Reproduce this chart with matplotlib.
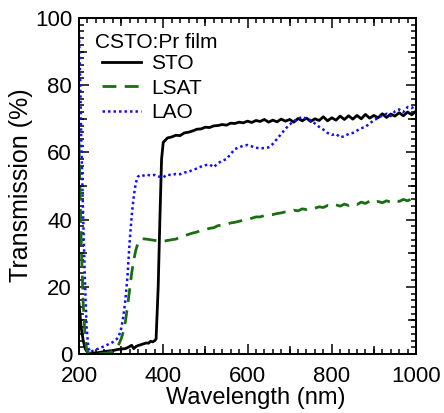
import matplotlib
matplotlib.use("Agg")
import matplotlib.pyplot as plt
from matplotlib.ticker import MultipleLocator, FixedLocator, NullFormatter

plt.rcParams['font.family'] = ['Liberation Sans', 'DejaVu Sans']

# ---- data ----
sto_wl = [200, 205, 210, 215, 220, 225, 230, 240, 250, 260, 270, 280, 290, 300, 310, 320, 325, 330,
          335, 340, 350, 360, 365, 370, 375, 380, 383, 388, 392, 396,
          400, 410, 420, 430, 440, 450, 460, 470, 480, 490, 500, 510, 520, 530, 540, 550, 560, 570,
          580, 590, 600, 610, 620, 630, 640, 650, 660, 670, 680, 690, 700, 710, 720, 730, 740, 750,
          760, 770, 780, 790, 800, 810, 820, 830, 840, 850, 860, 870, 880, 890, 900, 910, 920, 930,
          940, 950, 960, 970, 980, 990, 1000]
sto_t = [15, 8, 4, 1.5, 0.5, 0.2, 0.3, 0.3, 0.5, 0.7, 0.9, 1.0, 1.3, 1.5, 1.6, 2.2, 2.6, 1.6,
         2.2, 2.5, 2.9, 3.3, 3.2, 3.8, 3.6, 4.0, 4.5, 20, 40, 58,
         63.0, 64.3, 64.6, 65.1, 65.0, 65.8, 66.0, 66.4, 66.9, 67.0, 67.5, 67.4, 67.9, 68.0, 68.3,
         68.1, 68.7, 68.6, 69.0, 68.8, 69.3, 68.9, 69.5, 69.2, 69.8, 69.0, 69.6, 69.1, 69.9, 69.3,
         69.8, 69.0, 70.1, 69.4, 70.2, 69.2, 70.0, 69.5, 70.6, 69.4, 70.3, 69.6, 70.8, 69.8, 70.9,
         69.9, 71.0, 70.0, 71.3, 70.2, 71.0, 70.3, 71.5, 70.4, 71.4, 70.8, 71.8, 70.9, 72.0, 71.2, 72.3]

lsat_wl = [200, 203, 206, 210, 214, 218, 222, 230, 240, 250, 260, 270, 280, 290, 295, 300, 305,
           310, 315, 320, 325, 330, 335, 340, 345, 350, 360, 370, 380, 390, 400, 410, 420, 430,
           440, 450, 460, 470, 480, 490, 500, 510, 520, 530, 540, 550, 560, 570, 580, 590, 600,
           610, 620, 630, 640, 650, 660, 670, 680, 690, 700, 710, 720, 730, 740, 750, 760, 770,
           780, 790, 800, 810, 820, 830, 840, 850, 860, 870, 880, 890, 900, 910, 920, 930, 940,
           950, 960, 970, 980, 990, 1000]
lsat_t = [63, 45, 30, 15, 6, 1.5, 0.3, 0, 0, 0.1, 0.2, 0.4, 0.8, 2.0, 3.0, 4.5, 6.5,
          9.5, 14, 19, 24, 28, 31, 33, 34, 34.3, 34.2, 34.0, 33.8, 33.6, 33.5, 33.8, 34.0, 34.2,
          34.8, 35.2, 35.6, 36.0, 36.3, 36.8, 37.0, 37.4, 37.6, 38.2, 38.4, 38.6, 39.0, 39.2, 39.5,
          39.8, 40.2, 40.4, 40.8, 40.8, 41.2, 41.4, 41.5, 41.8, 42.0, 42.3, 42.4, 42.8, 42.6, 43.2,
          43.0, 43.5, 43.4, 43.8, 43.6, 44.2, 43.9, 44.4, 44.0, 44.6, 44.2, 44.8, 44.5, 45.2, 44.8,
          45.5, 44.9, 45.4, 45.0, 45.6, 45.2, 45.8, 45.4, 46.0, 45.6, 46.2, 46.0]

lao_wl = [200, 203, 206, 210, 214, 218, 222, 226, 230, 240, 250, 260, 270, 280, 290, 295, 300,
          305, 310, 315, 320, 325, 330, 335, 340, 345, 350, 360, 370, 380, 390, 400, 410, 420,
          430, 440, 450, 460, 470, 480, 490, 500, 510, 520, 530, 540, 550, 560, 570, 580, 590,
          600, 610, 620, 630, 640, 650, 660, 670, 680, 690, 700, 710, 720, 730, 740, 750, 760,
          770, 780, 790, 800, 810, 820, 830, 840, 850, 860, 870, 880, 890, 900, 910, 920, 930,
          940, 950, 960, 970, 980, 990, 1000]
lao_t = [95, 80, 60, 40, 22, 8, 2, 0.6, 0.8, 1.3, 1.8, 2.3, 2.9, 3.5, 4.5, 5.5, 7.5,
         11, 16, 23, 33, 41, 47, 51, 52.8, 53.2, 53.0, 53.4, 53.1, 53.3, 52.8, 52.6, 53.4, 53.2,
         53.6, 53.5, 54.0, 54.2, 54.8, 55.2, 55.8, 56.2, 56.4, 55.6, 56.8, 57.5, 58.0, 59.5, 61.0,
         61.5, 62.0, 62.2, 61.8, 61.4, 61.2, 61.3, 61.5, 62.5, 64.0, 65.5, 67.0, 68.3, 69.3, 70.0,
         70.6, 70.0, 69.6, 68.6, 67.6, 66.8, 65.8, 65.2, 65.5, 64.5, 64.8, 65.5, 65.8, 66.5, 67.2,
         67.6, 68.6, 69.6, 70.2, 71.0, 71.5, 70.8, 72.2, 72.8, 72.0, 73.5, 73.2, 74.0]

series_labels = ["STO", "LSAT", "LAO"]
legend_title = "CSTO:Pr film"

# ---- figure ----
W, H = 444, 413
fig = plt.figure(figsize=(W / 100, H / 100), dpi=100)
ax_l, ax_r, ax_t, ax_b = 79, 416, 18, 354
ax = fig.add_axes([ax_l / W, (H - ax_b) / H, (ax_r - ax_l) / W, (ax_b - ax_t) / H])

def ax_x(px):
    return (px - ax_l) / (ax_r - ax_l)

def ax_y(py):
    return (ax_b - py) / (ax_b - ax_t)

ax.plot(sto_wl, sto_t, color='black', lw=2.0, ls='-', label=series_labels[0])
ax.plot(lsat_wl, lsat_t, color='#1a6e12', lw=2.0, ls=(0, (5, 3)), label=series_labels[1])
ax.plot(lao_wl, lao_t, color='#1010ff', lw=1.8, ls=(0, (1, 1.2)), label=series_labels[2])

ax.set_xlim(200, 1000)
ax.set_ylim(0, 100)

ax.xaxis.set_major_locator(MultipleLocator(200))
ax.xaxis.set_minor_locator(MultipleLocator(20))
ax.yaxis.set_major_locator(MultipleLocator(20))
ax.yaxis.set_minor_locator(MultipleLocator(2))

tfs = 16
ax.tick_params(which='both', direction='in', top=True, right=True, width=1.1, color='black')
ax.tick_params(which='major', length=7.5)
ax.tick_params(which='minor', length=3.5)
ax.tick_params(axis='x', which='major', labelsize=tfs, pad=9)
ax.tick_params(axis='y', which='major', labelsize=tfs, pad=5)
for s in ax.spines.values():
    s.set_linewidth(1.3)

# medium ticks (every 100 nm / every 10 %)
for loc in ['bottom', 'top']:
    sec = ax.secondary_xaxis(loc)
    sec.xaxis.set_major_locator(FixedLocator([300, 500, 700, 900]))
    sec.xaxis.set_major_formatter(NullFormatter())
    sec.xaxis.set_minor_locator(FixedLocator([]))
    sec.tick_params(direction='in', length=5.5, width=1.1)
    sec.spines[loc].set_linewidth(1.3)
for loc in ['left', 'right']:
    sec = ax.secondary_yaxis(loc)
    sec.yaxis.set_major_locator(FixedLocator([10, 30, 50, 70, 90]))
    sec.yaxis.set_major_formatter(NullFormatter())
    sec.yaxis.set_minor_locator(FixedLocator([]))
    sec.tick_params(direction='in', length=5.5, width=1.1)
    sec.spines[loc].set_linewidth(1.3)

ax.set_xlabel("Wavelength (nm)", fontsize=17)
ax.xaxis.set_label_coords(ax_x(256), ax_y(387))
ax.set_ylabel("Transmission (%)", fontsize=18)
ax.yaxis.set_label_coords(ax_x(33), ax_y(185))

lfs = 15
ax.text(ax_x(95), ax_y(42), legend_title, fontsize=lfs, ha='left', va='center',
        transform=ax.transAxes)
leg = ax.legend(loc='upper left', bbox_to_anchor=(ax_x(102), ax_y(54)), frameon=False,
                fontsize=lfs, handlelength=1.85, handletextpad=0.5, labelspacing=0.27,
                borderaxespad=0, borderpad=0)

fig.savefig("out.png", dpi=100)
